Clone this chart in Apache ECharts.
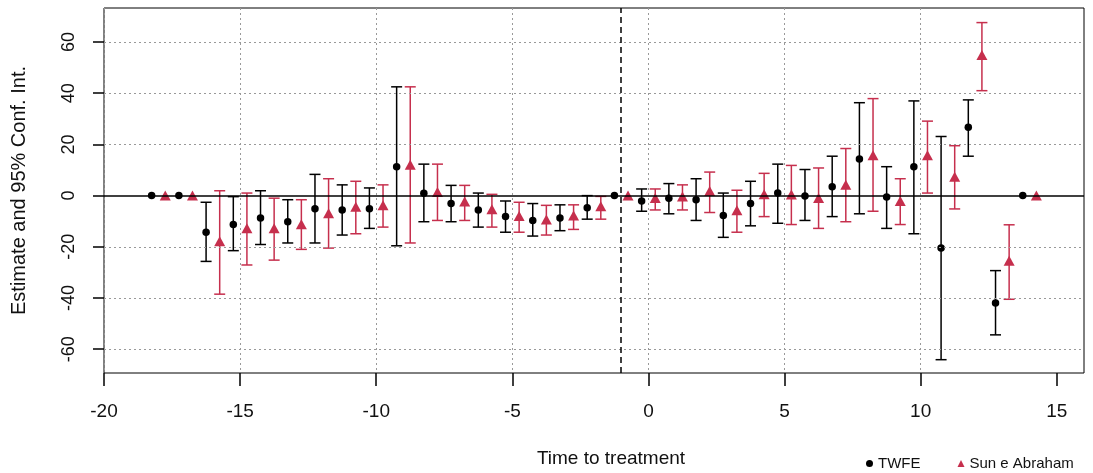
<!DOCTYPE html>
<html>
<head>
<meta charset="utf-8">
<script src="https://cdn.jsdelivr.net/npm/echarts@6/dist/echarts.min.js"></script>
<style>
  html, body { margin: 0; padding: 0; background: #fff; }
  #chart { width: 1093px; height: 473px; }
</style>
</head>
<body>
<div id="chart"></div>
<script>
// periods relative to treatment
const periods = [-18, -17, -16, -15, -14, -13, -12, -11, -10, -9, -8, -7, -6, -5, -4, -3, -2,
  -1, 0, 1, 2, 3, 4, 5, 6, 7, 8, 9, 10, 11, 12, 13, 14];

// TWFE estimates and 95% CI
const twfeEst = [0, 0, -14.3, -11.3, -8.7, -10.2, -5.1, -5.6, -5.1, 11.3, 0.9, -3.1, -5.6, -8.2, -9.7, -8.7, -4.7,
  0, -2.1, -1.0, -1.6, -7.8, -3.1, 1.0, -0.1, 3.5, 14.3, -0.5, 11.3, -20.5, 26.7, -42.0, 0];
const twfeLo = [null, null, -25.7, -21.5, -19.1, -18.5, -18.5, -15.4, -12.8, -19.6, -10.2, -10.2, -12.3, -14.3, -15.8, -13.7, -9.2,
  null, -6.1, -7.1, -9.7, -16.3, -11.8, -10.8, -9.7, -8.2, -7.1, -12.8, -14.9, -64.1, 15.4, -54.4, null];
const twfeHi = [null, null, -2.6, -0.4, 1.9, -1.6, 8.3, 4.2, 3.0, 42.5, 12.3, 4.0, 1.0, -2.1, -3.1, -3.6, 0.0,
  null, 2.6, 4.7, 6.6, 1.0, 5.6, 12.3, 10.2, 15.4, 36.3, 11.3, 37.0, 23.1, 37.4, -29.3, null];

// Sun e Abraham estimates and 95% CI
const sunEst = [0, 0, -17.8, -12.7, -12.7, -11.2, -6.9, -4.3, -3.8, 12.1, 1.4, -2.3, -5.3, -8.0, -9.3, -7.8, -4.2,
  0, -0.9, -0.3, 1.8, -5.7, 0.5, 0.4, -0.9, 4.2, 15.8, -2.1, 15.8, 7.4, 54.9, -25.4, 0];
const sunLo = [null, null, -38.5, -27.1, -25.2, -21.0, -20.5, -14.9, -12.3, -18.5, -9.7, -9.7, -12.3, -14.3, -15.4, -13.2, -9.2,
  null, -5.6, -5.6, -6.6, -14.3, -8.2, -11.3, -12.8, -10.2, -6.1, -11.3, 1.0, -5.2, 41.0, -40.5, null];
const sunHi = [null, null, 1.9, 1.0, -1.0, -1.6, 6.6, 5.6, 4.2, 42.5, 12.3, 4.0, 0.5, -2.6, -3.8, -3.6, -0.3,
  null, 2.6, 4.2, 9.2, 2.1, 8.7, 11.8, 10.8, 18.4, 37.9, 6.6, 29.1, 19.5, 67.6, -11.4, null];

const xTicks = [-20, -15, -10, -5, 0, 5, 10, 15];
const yTicks = [-60, -40, -20, 0, 20, 40, 60];
const refPeriod = -1;

const RED = '#C62F4D';
const FONT = '"Liberation Sans", Arial, sans-serif';
const dodge = 0.25;

function points(est, shift) {
  return periods.map((t, i) => [t + shift, est[i]]);
}
function bars(lo, hi, shift) {
  const out = [];
  periods.forEach((t, i) => {
    if (lo[i] !== null && hi[i] !== null) out.push([t + shift, lo[i], hi[i]]);
  });
  return out;
}
function barRenderer(color) {
  return function (params, api) {
    const x = api.value(0);
    const top = api.coord([x, api.value(2)]);
    const bot = api.coord([x, api.value(1)]);
    const hw = 5.5;
    const style = { stroke: color, lineWidth: 1.5 };
    return {
      type: 'group',
      children: [
        { type: 'line', shape: { x1: top[0], y1: top[1], x2: bot[0], y2: bot[1] }, style: style },
        { type: 'line', shape: { x1: top[0] - hw, y1: top[1], x2: top[0] + hw, y2: top[1] }, style: style },
        { type: 'line', shape: { x1: bot[0] - hw, y1: bot[1], x2: bot[0] + hw, y2: bot[1] }, style: style }
      ]
    };
  };
}

const gridStyle = { color: '#999', width: 1, type: [2, 3] };

let myChart = echarts.init(document.getElementById('chart'));
let option = {
  animation: false,
  grid: {
    left: 104, right: 9, top: 8, bottom: 99,
    show: true, borderColor: '#000', borderWidth: 1
  },
  legend: {
    left: 861, top: 451,
    itemWidth: 7, itemHeight: 7, itemGap: 37,
    textStyle: { fontFamily: FONT, fontSize: 15, color: '#111' },
    data: [
      { name: 'TWFE', icon: 'circle', itemStyle: { color: '#000' } },
      { name: 'Sun e Abraham', icon: 'triangle', itemStyle: { color: RED } }
    ]
  },
  xAxis: {
    type: 'value',
    min: -20, max: 16, interval: 5,
    name: 'Time to treatment',
    nameLocation: 'middle',
    nameGap: 76,
    nameTextStyle: { fontFamily: FONT, fontSize: 19, color: '#111', padding: [0, 0, 0, 34] },
    axisLine: { show: false, onZero: false },
    axisTick: { show: true, length: 13, customValues: xTicks, lineStyle: { color: '#000', width: 1.5 } },
    axisLabel: { customValues: xTicks, margin: 29, fontFamily: FONT, fontSize: 19, color: '#111' },
    splitLine: { show: true, showMaxLine: false, lineStyle: gridStyle }
  },
  yAxis: {
    type: 'value',
    min: -69.3, max: 73.3,
    name: 'Estimate and 95% Conf. Int.',
    nameLocation: 'middle',
    nameRotate: 90,
    nameGap: 75,
    nameTextStyle: { fontFamily: FONT, fontSize: 20, color: '#111' },
    axisLine: { show: false, onZero: false },
    axisTick: { show: true, length: 11, customValues: yTicks, lineStyle: { color: '#000', width: 1.5 } },
    axisLabel: { customValues: yTicks, rotate: 90, margin: 26, fontFamily: FONT, fontSize: 18, color: '#111' },
    splitLine: { show: false }
  },
  series: [
    {
      // horizontal dotted grid lines at the y tick values
      type: 'line', data: [], z: 1, silent: true,
      markLine: {
        silent: true, symbol: 'none', label: { show: false },
        lineStyle: gridStyle,
        data: yTicks.filter(v => v !== 0).map(v => ({ yAxis: v }))
      }
    },
    {
      type: 'line', data: [], z: 2, silent: true,
      markLine: {
        silent: true, symbol: 'none', label: { show: false },
        data: [
          { yAxis: 0, lineStyle: { color: '#000', width: 1.5, type: 'solid' } },
          { xAxis: refPeriod, lineStyle: { color: '#000', width: 1.5, type: [6, 4] } }
        ]
      }
    },
    {
      name: 'TWFE bars', type: 'custom', z: 3,
      renderItem: barRenderer('#000'),
      encode: { x: 0, y: [1, 2] },
      data: bars(twfeLo, twfeHi, -dodge)
    },
    {
      name: 'Sun bars', type: 'custom', z: 3,
      renderItem: barRenderer(RED),
      encode: { x: 0, y: [1, 2] },
      data: bars(sunLo, sunHi, dodge)
    },
    {
      name: 'TWFE', type: 'scatter', z: 4,
      symbol: 'circle', symbolSize: 7.5,
      itemStyle: { color: '#000', opacity: 1 },
      data: points(twfeEst, -dodge)
    },
    {
      name: 'Sun e Abraham', type: 'scatter', z: 4,
      symbol: 'triangle', symbolSize: [11, 10],
      itemStyle: { color: RED, opacity: 1 },
      data: points(sunEst, dodge)
    }
  ]
};
myChart.setOption(option);
</script>
</body>
</html>
